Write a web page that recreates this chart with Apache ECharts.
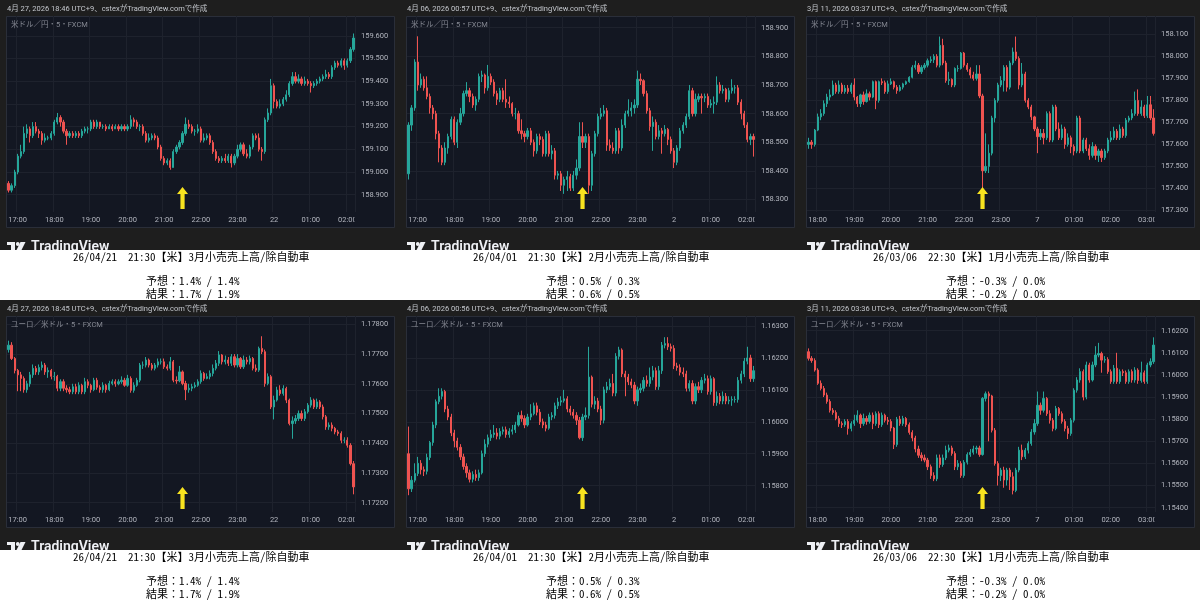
<!DOCTYPE html>
<html><head><meta charset="utf-8">
<script src="https://cdn.jsdelivr.net/npm/echarts@6/dist/echarts.min.js"></script>
<style>html,body{margin:0;padding:0;background:#fff}#c{width:1200px;height:600px}</style>
</head><body><div id="c"></div>
<script>
// ---------- DATA ----------
const p1Open0 = 158.95;
const p1Close = [158.92,158.94,159.00,159.07,159.09,159.17,159.19,159.16,159.20,159.18,
159.17,159.14,159.15,159.15,159.17,159.22,159.24,159.22,159.18,159.16,
159.17,159.16,159.17,159.16,159.18,159.19,159.19,159.22,159.20,159.22,
159.20,159.20,159.19,159.20,159.19,159.20,159.19,159.20,159.19,159.20,
159.23,159.22,159.20,159.20,159.17,159.14,159.15,159.16,159.15,159.11,
159.06,159.04,159.05,159.02,159.09,159.11,159.13,159.17,159.21,159.20,
159.18,159.18,159.19,159.14,159.15,159.16,159.13,159.09,159.06,159.05,
159.06,159.05,159.07,159.04,159.07,159.10,159.12,159.08,159.07,159.11,
159.16,159.15,159.10,159.09,159.23,159.26,159.38,159.31,159.29,159.30,
159.32,159.34,159.39,159.42,159.40,159.41,159.39,159.40,159.39,159.38,
159.39,159.40,159.41,159.42,159.43,159.42,159.46,159.48,159.47,159.49,
159.47,159.49,159.54,159.59];
const p1High = [158.96,158.95,159.01,159.08,159.12,159.20,159.21,159.20,159.22,159.22,
159.19,159.18,159.17,159.16,159.18,159.23,159.26,159.25,159.23,159.19,
159.18,159.18,159.18,159.18,159.19,159.20,159.20,159.23,159.23,159.23,
159.22,159.21,159.21,159.21,159.21,159.21,159.21,159.21,159.21,159.21,
159.25,159.24,159.23,159.21,159.21,159.18,159.17,159.17,159.17,159.16,
159.12,159.07,159.06,159.06,159.10,159.12,159.14,159.18,159.24,159.23,
159.21,159.19,159.21,159.20,159.17,159.17,159.17,159.14,159.10,159.07,
159.07,159.08,159.08,159.08,159.08,159.12,159.13,159.13,159.10,159.12,
159.17,159.17,159.17,159.11,159.24,159.28,159.41,159.39,159.32,159.32,
159.33,159.36,159.40,159.44,159.44,159.43,159.42,159.42,159.41,159.40,
159.40,159.41,159.42,159.43,159.45,159.44,159.47,159.49,159.49,159.50,
159.50,159.50,159.55,159.61];
const p1Low = [158.91,158.91,158.93,158.99,159.06,159.08,159.15,159.13,159.15,159.17,
159.15,159.12,159.13,159.14,159.14,159.16,159.21,159.20,159.17,159.12,
159.15,159.15,159.15,159.15,159.15,159.17,159.17,159.18,159.19,159.19,
159.19,159.19,159.18,159.19,159.18,159.19,159.18,159.18,159.18,159.18,
159.19,159.20,159.19,159.18,159.16,159.13,159.13,159.14,159.14,159.10,
159.05,159.03,159.03,159.01,159.02,159.08,159.10,159.12,159.16,159.19,
159.17,159.16,159.17,159.13,159.13,159.14,159.12,159.08,159.05,159.04,
159.04,159.04,159.04,159.02,159.03,159.06,159.09,159.07,159.06,159.06,
159.10,159.14,159.09,159.05,159.08,159.22,159.25,159.28,159.28,159.28,
159.29,159.31,159.33,159.38,159.39,159.39,159.38,159.38,159.38,159.35,
159.37,159.38,159.39,159.40,159.41,159.41,159.41,159.45,159.46,159.46,
159.45,159.46,159.48,159.53];

const p2Open0 = 158.39;
const p2Close = [158.56,158.62,158.78,158.70,158.72,158.69,158.66,158.62,158.60,158.53,
158.48,158.43,158.48,158.52,158.58,158.50,158.57,158.60,158.67,158.68,
158.66,158.63,158.65,158.73,158.735,158.69,158.73,158.71,158.67,158.65,
158.68,158.65,158.64,158.635,158.60,158.60,158.54,158.53,158.52,158.54,
158.50,158.47,158.52,158.51,158.46,158.53,158.46,158.47,158.385,158.39,
158.35,158.37,158.38,158.34,158.385,158.41,158.52,158.50,158.52,158.35,
158.46,158.53,158.59,158.60,158.61,158.49,158.48,158.47,158.54,158.48,
158.56,158.60,158.61,158.62,158.63,158.72,158.715,158.67,158.61,158.555,
158.57,158.52,158.54,158.53,158.545,158.51,158.47,158.43,158.48,158.54,
158.56,158.59,158.68,158.60,158.65,158.66,158.655,158.66,158.63,158.635,
158.64,158.70,158.68,158.685,158.65,158.68,158.69,158.69,158.64,158.60,
158.56,158.51,158.52,158.51];
const p2High = [158.57,158.63,158.79,158.87,158.74,158.73,158.73,158.67,158.63,158.61,
158.54,158.49,158.50,158.53,158.59,158.59,158.58,158.62,158.68,158.71,
158.69,158.67,158.66,158.74,158.75,158.74,158.77,158.74,158.72,158.68,
158.69,158.69,158.72,158.66,158.64,158.62,158.61,158.58,158.54,158.55,
158.55,158.51,158.53,158.53,158.52,158.54,158.54,158.49,158.48,158.40,
158.40,158.38,158.40,158.39,158.40,158.44,158.57,158.57,158.53,158.53,
158.47,158.54,158.60,158.62,158.63,158.62,158.51,158.50,158.55,158.55,
158.58,158.61,158.65,158.64,158.65,158.75,158.74,158.72,158.68,158.62,
158.59,158.58,158.56,158.55,158.56,158.55,158.52,158.48,158.49,158.55,
158.57,158.60,158.70,158.69,158.67,158.67,158.67,158.67,158.67,158.65,
158.66,158.73,158.71,158.70,158.69,158.69,158.72,158.70,158.70,158.65,
158.61,158.57,158.53,158.53];
const p2Low = [158.37,158.54,158.61,158.68,158.69,158.68,158.65,158.60,158.58,158.51,
158.43,158.42,158.42,158.46,158.51,158.49,158.48,158.56,158.59,158.66,
158.64,158.62,158.61,158.64,158.71,158.67,158.68,158.70,158.66,158.63,
158.64,158.64,158.62,158.62,158.59,158.58,158.53,158.51,158.50,158.51,
158.49,158.45,158.46,158.49,158.45,158.45,158.45,158.44,158.37,158.37,
158.33,158.32,158.33,158.33,158.33,158.37,158.40,158.48,158.48,158.32,
158.33,158.45,158.52,158.58,158.59,158.47,158.47,158.46,158.46,158.46,
158.47,158.55,158.59,158.59,158.60,158.62,158.70,158.66,158.60,158.54,
158.47,158.51,158.51,158.46,158.52,158.49,158.46,158.41,158.42,158.47,
158.53,158.55,158.58,158.59,158.59,158.64,158.60,158.64,158.62,158.62,
158.60,158.63,158.67,158.67,158.64,158.64,158.67,158.67,158.63,158.58,
158.55,158.50,158.49,158.45];

const p3Open0 = 157.60;
const p3Close = [157.61,157.60,157.665,157.725,157.74,157.785,157.815,157.825,157.87,157.84,
157.87,157.84,157.855,157.84,157.87,157.815,157.785,157.825,157.795,157.83,
157.815,157.885,157.80,157.885,157.88,157.84,157.875,157.885,157.86,157.845,
157.86,157.875,157.885,157.905,157.95,157.96,157.93,157.95,157.96,157.98,
157.985,158.00,157.96,158.05,157.97,157.89,157.895,157.87,157.945,157.945,
158.015,157.96,157.94,157.915,157.90,157.92,157.82,157.48,157.50,157.56,
157.72,157.80,157.87,157.89,157.95,157.86,157.97,158.02,157.99,157.87,
157.92,157.80,157.77,157.725,157.67,157.635,157.65,157.63,157.74,157.62,
157.77,157.67,157.63,157.67,157.60,157.63,157.59,157.57,157.72,157.57,
157.62,157.58,157.55,157.59,157.55,157.57,157.54,157.57,157.62,157.63,
157.66,157.63,157.67,157.64,157.71,157.72,157.74,157.80,157.74,157.77,
157.73,157.78,157.72,157.65];
const p3High = [157.63,157.62,157.67,157.74,157.76,157.80,157.83,157.85,157.89,157.88,
157.89,157.88,157.87,157.87,157.88,157.90,157.82,157.83,157.84,157.85,
157.84,157.89,157.89,157.89,157.90,157.89,157.89,157.90,157.89,157.87,
157.87,157.88,157.89,157.91,157.96,157.98,157.97,157.96,157.97,157.99,
158.00,158.01,158.01,158.09,158.08,157.98,157.93,157.90,157.95,157.96,
158.02,158.02,157.97,157.95,157.93,157.96,157.96,157.83,157.65,157.60,
157.73,157.81,157.88,157.91,157.96,157.96,157.98,158.04,158.09,158.00,
157.97,157.93,157.81,157.78,157.73,157.68,157.67,157.67,157.75,157.75,
157.78,157.78,157.70,157.69,157.68,157.65,157.64,157.60,157.73,157.73,
157.63,157.63,157.60,157.61,157.60,157.58,157.58,157.58,157.63,157.66,
157.68,157.67,157.69,157.68,157.72,157.73,157.76,157.84,157.85,157.80,
157.78,157.82,157.82,157.76];
const p3Low = [157.58,157.58,157.59,157.66,157.71,157.73,157.77,157.80,157.82,157.83,
157.83,157.83,157.83,157.83,157.83,157.80,157.77,157.77,157.78,157.79,
157.80,157.81,157.76,157.79,157.87,157.83,157.83,157.87,157.85,157.83,
157.84,157.85,157.87,157.88,157.90,157.94,157.92,157.92,157.94,157.95,
157.97,157.97,157.95,157.95,157.96,157.88,157.87,157.86,157.86,157.93,
157.94,157.95,157.93,157.90,157.89,157.89,157.81,157.375,157.47,157.47,
157.55,157.70,157.79,157.86,157.84,157.84,157.85,157.96,157.98,157.85,
157.86,157.79,157.76,157.71,157.66,157.56,157.62,157.60,157.62,157.61,
157.61,157.66,157.62,157.62,157.58,157.59,157.56,157.55,157.56,157.56,
157.56,157.57,157.53,157.54,157.53,157.52,157.52,157.53,157.56,157.61,
157.62,157.62,157.62,157.63,157.63,157.70,157.71,157.73,157.73,157.73,
157.72,157.72,157.71,157.64];

const p4Open0 = 1.17715;
const p4Close = [1.17730,1.17685,1.17645,1.17630,1.17618,1.17580,1.17600,1.17630,1.17652,1.17640,
1.17655,1.17663,1.17640,1.17645,1.17625,1.17625,1.17585,1.17607,1.17585,1.17580,
1.17573,1.17590,1.17573,1.17595,1.17573,1.17607,1.17595,1.17580,1.17612,1.17588,
1.17580,1.17595,1.17580,1.17601,1.17607,1.17600,1.17607,1.17612,1.17595,1.17618,
1.17578,1.17595,1.17612,1.17663,1.17663,1.17680,1.17663,1.17652,1.17663,1.17674,
1.17674,1.17657,1.17652,1.17674,1.17612,1.17610,1.17640,1.17601,1.17580,1.17585,
1.17590,1.17595,1.17607,1.17635,1.17618,1.17624,1.17635,1.17652,1.17669,1.17697,
1.17674,1.17680,1.17669,1.17691,1.17663,1.17685,1.17657,1.17680,1.17674,1.17685,
1.17652,1.17646,1.17719,1.17708,1.17601,1.17624,1.17522,1.17545,1.17579,1.17567,
1.17584,1.17545,1.17466,1.17475,1.17483,1.17500,1.17483,1.17506,1.17528,1.17545,
1.17522,1.17539,1.17522,1.17489,1.17455,1.17461,1.17450,1.17438,1.17433,1.17410,
1.17410,1.17393,1.17331,1.17253];
const p4High = [1.17745,1.17740,1.17690,1.17650,1.17640,1.17625,1.17610,1.17640,1.17665,1.17660,
1.17665,1.17675,1.17670,1.17655,1.17650,1.17640,1.17630,1.17615,1.17615,1.17595,
1.17590,1.17600,1.17600,1.17605,1.17600,1.17620,1.17615,1.17600,1.17620,1.17620,
1.17595,1.17605,1.17600,1.17610,1.17615,1.17615,1.17615,1.17625,1.17620,1.17630,
1.17625,1.17605,1.17620,1.17670,1.17675,1.17690,1.17685,1.17670,1.17670,1.17685,
1.17685,1.17685,1.17665,1.17690,1.17680,1.17625,1.17660,1.17645,1.17610,1.17600,
1.17600,1.17605,1.17615,1.17645,1.17640,1.17635,1.17645,1.17665,1.17680,1.17710,
1.17700,1.17695,1.17690,1.17700,1.17700,1.17700,1.17690,1.17695,1.17690,1.17695,
1.17690,1.17665,1.17725,1.17760,1.17715,1.17635,1.17630,1.17560,1.17590,1.17595,
1.17595,1.17590,1.17550,1.17490,1.17495,1.17510,1.17510,1.17515,1.17535,1.17555,
1.17550,1.17550,1.17545,1.17530,1.17495,1.17470,1.17470,1.17455,1.17445,1.17440,
1.17420,1.17420,1.17400,1.17340];
const p4Low = [1.17705,1.17680,1.17635,1.17575,1.17575,1.17570,1.17570,1.17590,1.17620,1.17630,
1.17630,1.17645,1.17630,1.17620,1.17615,1.17610,1.17575,1.17575,1.17575,1.17570,
1.17565,1.17565,1.17565,1.17565,1.17565,1.17565,1.17585,1.17570,1.17575,1.17580,
1.17570,1.17570,1.17570,1.17575,1.17595,1.17590,1.17595,1.17600,1.17590,1.17590,
1.17570,1.17570,1.17590,1.17605,1.17650,1.17655,1.17655,1.17645,1.17645,1.17655,
1.17665,1.17650,1.17645,1.17645,1.17605,1.17600,1.17605,1.17595,1.17545,1.17570,
1.17575,1.17585,1.17590,1.17600,1.17610,1.17615,1.17615,1.17625,1.17645,1.17660,
1.17665,1.17665,1.17660,1.17660,1.17655,1.17655,1.17650,1.17650,1.17665,1.17665,
1.17645,1.17640,1.17640,1.17700,1.17590,1.17595,1.17515,1.17480,1.17540,1.17560,
1.17560,1.17535,1.17460,1.17415,1.17465,1.17475,1.17475,1.17475,1.17500,1.17520,
1.17515,1.17515,1.17515,1.17480,1.17445,1.17445,1.17440,1.17430,1.17425,1.17400,
1.17400,1.17385,1.17325,1.17228];

const p5Open0 = 1.15900;
const p5Close = [1.15790,1.15817,1.15838,1.15870,1.15850,1.15845,1.15888,1.15935,1.15990,1.16063,
1.16080,1.16095,1.16040,1.16015,1.15965,1.15940,1.15920,1.15890,1.15860,1.15840,
1.15820,1.15835,1.15825,1.15840,1.15900,1.15930,1.15950,1.15960,1.15965,1.15955,
1.15970,1.15975,1.15960,1.15970,1.15975,1.15990,1.16020,1.16010,1.15990,1.16015,
1.16025,1.16050,1.16030,1.16000,1.15990,1.15980,1.16015,1.16020,1.16050,1.16062,
1.16066,1.16072,1.16040,1.16030,1.16020,1.16005,1.15950,1.16015,1.16020,1.16140,
1.16055,1.16065,1.16040,1.16005,1.16100,1.16110,1.16120,1.16090,1.16205,1.16225,
1.16150,1.16140,1.16125,1.16115,1.16065,1.16100,1.16105,1.16130,1.16120,1.16140,
1.16160,1.16110,1.16160,1.16240,1.16245,1.16235,1.16230,1.16175,1.16170,1.16155,
1.16150,1.16105,1.16120,1.16065,1.16110,1.16100,1.16130,1.16135,1.16095,1.16135,
1.16060,1.16080,1.16065,1.16080,1.16065,1.16068,1.16070,1.16070,1.16130,1.16150,
1.16190,1.16200,1.16135,1.16160];
const p5High = [1.15985,1.15830,1.15870,1.15890,1.15880,1.15860,1.15900,1.15940,1.16000,1.16070,
1.16105,1.16105,1.16100,1.16050,1.16025,1.15975,1.15950,1.15930,1.15900,1.15870,
1.15850,1.15845,1.15850,1.15850,1.15910,1.15945,1.15960,1.15975,1.15990,1.15980,
1.15980,1.15985,1.15985,1.15980,1.15990,1.16000,1.16030,1.16035,1.16020,1.16025,
1.16055,1.16060,1.16060,1.16040,1.16010,1.16000,1.16025,1.16030,1.16060,1.16075,
1.16080,1.16100,1.16080,1.16050,1.16040,1.16030,1.16015,1.16025,1.16045,1.16235,
1.16145,1.16080,1.16075,1.16050,1.16110,1.16125,1.16135,1.16150,1.16215,1.16235,
1.16230,1.16160,1.16150,1.16135,1.16125,1.16110,1.16120,1.16140,1.16145,1.16170,
1.16175,1.16170,1.16175,1.16250,1.16265,1.16265,1.16245,1.16240,1.16185,1.16180,
1.16170,1.16160,1.16130,1.16130,1.16120,1.16125,1.16140,1.16150,1.16145,1.16145,
1.16140,1.16095,1.16090,1.16095,1.16090,1.16080,1.16080,1.16080,1.16140,1.16160,
1.16200,1.16235,1.16210,1.16175];
const p5Low = [1.15770,1.15780,1.15810,1.15830,1.15835,1.15830,1.15835,1.15880,1.15925,1.15980,
1.16055,1.16070,1.16030,1.16005,1.15955,1.15920,1.15910,1.15880,1.15850,1.15825,
1.15810,1.15810,1.15815,1.15815,1.15835,1.15890,1.15920,1.15940,1.15950,1.15945,
1.15945,1.15960,1.15950,1.15950,1.15960,1.15965,1.15985,1.16000,1.15980,1.15985,
1.16005,1.16020,1.16020,1.15990,1.15980,1.15970,1.15975,1.16005,1.16010,1.16040,
1.16050,1.16060,1.16030,1.16020,1.16010,1.15990,1.15945,1.15940,1.16005,1.16010,
1.16045,1.16040,1.16030,1.15990,1.15995,1.16090,1.16100,1.16080,1.16080,1.16195,
1.16140,1.16080,1.16115,1.16105,1.16055,1.16050,1.16090,1.16095,1.16110,1.16110,
1.16130,1.16100,1.16100,1.16150,1.16230,1.16225,1.16220,1.16165,1.16160,1.16145,
1.16140,1.16095,1.16095,1.16055,1.16055,1.16090,1.16090,1.16120,1.16085,1.16085,
1.16050,1.16050,1.16055,1.16055,1.16055,1.16055,1.16050,1.16060,1.16060,1.16120,
1.16140,1.16180,1.16125,1.16125];

const p6Open0 = 1.16105;
const p6Close = [1.16075,1.16065,1.16022,1.15962,1.15939,1.15909,1.15880,1.15840,1.15830,1.15803,
1.15780,1.15775,1.15790,1.15758,1.15780,1.15795,1.15818,1.15780,1.15803,1.15790,
1.15818,1.15780,1.15825,1.15775,1.15818,1.15795,1.15790,1.15760,1.15685,1.15800,
1.15780,1.15803,1.15775,1.15740,1.15715,1.15665,1.15637,1.15625,1.15615,1.15585,
1.15545,1.15530,1.15625,1.15595,1.15625,1.15660,1.15670,1.15645,1.15585,1.15600,
1.15545,1.15605,1.15640,1.15650,1.15665,1.15670,1.15640,1.15894,1.15915,1.15905,
1.15750,1.15600,1.15545,1.15570,1.15525,1.15570,1.15540,1.15478,1.15570,1.15660,
1.15630,1.15660,1.15690,1.15742,1.15780,1.15863,1.15840,1.15894,1.15825,1.15795,
1.15758,1.15848,1.15825,1.15790,1.15758,1.15735,1.15795,1.15931,1.15977,1.16015,
1.15900,1.16045,1.15977,1.16045,1.16090,1.16097,1.16067,1.16070,1.16015,1.15970,
1.16030,1.15970,1.16015,1.16010,1.15970,1.16015,1.15977,1.16022,1.15975,1.16010,
1.15970,1.16045,1.16060,1.16135];
const p6High = [1.16120,1.16085,1.16075,1.16030,1.15975,1.15950,1.15920,1.15890,1.15850,1.15840,
1.15815,1.15790,1.15800,1.15800,1.15790,1.15820,1.15840,1.15825,1.15825,1.15815,
1.15830,1.15830,1.15835,1.15835,1.15830,1.15825,1.15810,1.15800,1.15765,1.15810,
1.15815,1.15815,1.15810,1.15785,1.15750,1.15725,1.15680,1.15650,1.15640,1.15625,
1.15595,1.15560,1.15640,1.15640,1.15640,1.15680,1.15685,1.15680,1.15655,1.15615,
1.15610,1.15615,1.15650,1.15665,1.15680,1.15680,1.15680,1.15900,1.15925,1.15925,
1.15910,1.15760,1.15610,1.15580,1.15585,1.15580,1.15580,1.15560,1.15580,1.15675,
1.15685,1.15670,1.15700,1.15755,1.15800,1.15925,1.15875,1.15925,1.15900,1.15840,
1.15805,1.15860,1.15855,1.15835,1.15800,1.15770,1.15805,1.15940,1.15990,1.16030,
1.16025,1.16060,1.16055,1.16060,1.16130,1.16145,1.16105,1.16085,1.16080,1.16025,
1.16045,1.16100,1.16025,1.16025,1.16020,1.16025,1.16025,1.16035,1.16030,1.16060,
1.16020,1.16055,1.16075,1.16170];
const p6Low = [1.16065,1.16055,1.16015,1.15955,1.15930,1.15900,1.15870,1.15830,1.15820,1.15795,
1.15765,1.15760,1.15765,1.15730,1.15745,1.15770,1.15785,1.15760,1.15770,1.15775,
1.15780,1.15755,1.15770,1.15760,1.15765,1.15785,1.15775,1.15745,1.15665,1.15675,
1.15770,1.15770,1.15765,1.15730,1.15700,1.15650,1.15625,1.15610,1.15605,1.15570,
1.15530,1.15520,1.15520,1.15580,1.15585,1.15615,1.15650,1.15635,1.15570,1.15570,
1.15535,1.15535,1.15595,1.15630,1.15640,1.15645,1.15630,1.15635,1.15880,1.15700,
1.15740,1.15590,1.15500,1.15520,1.15490,1.15500,1.15480,1.15460,1.15470,1.15560,
1.15615,1.15620,1.15645,1.15680,1.15730,1.15770,1.15820,1.15830,1.15815,1.15780,
1.15745,1.15750,1.15815,1.15780,1.15745,1.15710,1.15725,1.15785,1.15920,1.15965,
1.15885,1.15890,1.15965,1.15970,1.16035,1.16080,1.16010,1.16055,1.16005,1.15960,
1.15960,1.15960,1.15960,1.15995,1.15960,1.15960,1.15965,1.15965,1.15960,1.15965,
1.15960,1.15960,1.16035,1.16050];

// axis ranges (bottom, top of plot) and tick labels
const p1Range = [158.824, 159.687];
const p2Range = [158.2566, 158.9408];
const p3Range = [157.2927, 158.1835];
const p4Range = [1.171685, 1.178281];
const p5Range = [1.157174, 1.163314];
const p6Range = [1.153804, 1.162664];
const ticksApr21 = ['17:00','18:00','19:00','20:00','21:00','22:00','23:00','22','01:00','02:00'];
const ticksApr01 = ['17:00','18:00','19:00','20:00','21:00','22:00','23:00','2','01:00','02:00'];
const ticksMar06 = ['18:00','19:00','20:00','21:00','22:00','23:00','7','01:00','02:00','03:00'];
const startTimes = ['16:45','16:45','17:45'];
const eventTimes = ['21:30','21:30','22:30'];

const titles = [
 '4月 27, 2026 18:46 UTC+9、cstexがTradingView.comで作成',
 '4月 06, 2026 00:57 UTC+9、cstexがTradingView.comで作成',
 '3月 11, 2026 03:37 UTC+9、cstexがTradingView.comで作成',
 '4月 27, 2026 18:45 UTC+9、cstexがTradingView.comで作成',
 '4月 06, 2026 00:56 UTC+9、cstexがTradingView.comで作成',
 '3月 11, 2026 03:36 UTC+9、cstexがTradingView.comで作成'];
const symbols = ['米ドル／円・5・FXCM','ユーロ／米ドル・5・FXCM'];
const eventLines = ['26/04/21  21:30【米】3月小売売上高/除自動車','26/04/01  21:30【米】2月小売売上高/除自動車','26/03/06  22:30【米】1月小売売上高/除自動車'];
const forecastLines = ['予想：1.4% / 1.4%','予想：0.5% / 0.3%','予想：-0.3% / 0.0%'];
const resultLines = ['結果：1.7% / 1.9%','結果：0.6% / 0.5%','結果：-0.2% / 0.0%'];

// ---------- BUILD ----------
const panels = [
 {col:0,row:0,open0:p1Open0,close:p1Close,high:p1High,low:p1Low,range:p1Range,step:0.1,dec:3,ticks:ticksApr21,sym:symbols[0]},
 {col:1,row:0,open0:p2Open0,close:p2Close,high:p2High,low:p2Low,range:p2Range,step:0.1,dec:3,ticks:ticksApr01,sym:symbols[0]},
 {col:2,row:0,open0:p3Open0,close:p3Close,high:p3High,low:p3Low,range:p3Range,step:0.1,dec:3,ticks:ticksMar06,sym:symbols[0]},
 {col:0,row:1,open0:p4Open0,close:p4Close,high:p4High,low:p4Low,range:p4Range,step:0.001,dec:5,ticks:ticksApr21,sym:symbols[1]},
 {col:1,row:1,open0:p5Open0,close:p5Close,high:p5High,low:p5Low,range:p5Range,step:0.001,dec:5,ticks:ticksApr01,sym:symbols[1]},
 {col:2,row:1,open0:p6Open0,close:p6Close,high:p6High,low:p6Low,range:p6Range,step:0.001,dec:5,ticks:ticksMar06,sym:symbols[1]}
];

function buildTimes(start, n){
  let [h,m] = start.split(':').map(Number); const out = [];
  for (let i=0;i<n;i++){ out.push(String(h).padStart(2,'0')+':'+String(m).padStart(2,'0')); m+=5; if(m>=60){m-=60;h=(h+1)%24;} }
  return out;
}

const UP='#26a69a', DOWN='#ef5350', LBL='#b2b5be', GRIDC='#1e222d';
const FONT = 'Roboto, "Noto Sans CJK JP", sans-serif';
const grids=[], xAxes=[], yAxes=[], series=[], graphics=[];

panels.forEach((p,k)=>{
  const ox = p.col*400, oy = p.row*300;
  const cats = buildTimes(startTimes[p.col], p.close.length);
  const labelMap = {}; let t=0;
  cats.forEach(c=>{ if(c.endsWith(':00')) labelMap[c]=p.ticks[t++]; });
  const data = p.close.map((c,i)=>[i===0?p.open0:p.close[i-1], c, p.low[i], p.high[i]]);
  const [mn,mx] = p.range;
  grids.push({left:ox+7, top:oy+16, width:348, height:196, show:false});
  xAxes.push({type:'category', gridIndex:k, data:cats, boundaryGap:true,
    axisLine:{show:false}, axisTick:{show:false},
    axisLabel:{interval:(i,v)=>v.endsWith(':00'), formatter:v=>labelMap[v]||'', color:LBL, fontSize:7.5, fontFamily:FONT, margin:4},
    splitLine:{show:true, interval:(i,v)=>v.endsWith(':00'), lineStyle:{color:GRIDC, width:1}}});
  yAxes.push({type:'value', gridIndex:k, position:'right', min:mn, max:mx, scale:true,
    minInterval:p.step, maxInterval:p.step,
    axisLine:{show:false}, axisTick:{show:false},
    splitLine:{show:true, showMinLine:false, showMaxLine:false, lineStyle:{color:GRIDC, width:1}},
    axisLabel:{color:LBL, fontSize:7.5, fontFamily:FONT, margin:6,
      formatter:v=>{ const r=v/p.step; return Math.abs(r-Math.round(r))<1e-6 ? v.toFixed(p.dec) : ''; }}});
  series.push({type:'candlestick', xAxisIndex:k, yAxisIndex:k, data, barWidth:1.7,
    itemStyle:{color:UP, color0:DOWN, borderColor:UP, borderColor0:DOWN, borderColorDoji:UP, borderWidth:1},
    markPoint:{silent:true, animation:false,
      symbol:'path://M5.5,0L11,7L7.6,7L7.6,22L3.4,22L3.4,7L0,7Z', symbolSize:[11,22],
      itemStyle:{color:'#f8e31f'}, label:{show:false},
      data:[{coord:[eventTimes[p.col], mn + 0.071*(mx-mn)]}]}});
  // chart box
  graphics.push({type:'rect', z:-10, shape:{x:ox+6.5, y:oy+16.5, width:388, height:211}, style:{fill:'#131722', stroke:'#2a2e39', lineWidth:1}});
  // cover for clipped time label under price scale
  graphics.push({type:'rect', z:50, shape:{x:ox+354.5, y:oy+213, width:39, height:14}, style:{fill:'#131722'}});
  graphics.push({type:'text', z:60, style:{text:titles[k], x:ox+7, y:oy+9, fill:'#c5c8ce', font:'7.5px '+FONT, textVerticalAlign:'middle'}});
  graphics.push({type:'text', z:60, style:{text:p.sym, x:ox+11, y:oy+25.5, fill:'#868993', font:'7.5px '+FONT, textVerticalAlign:'middle'}});
  // TradingView logo (cut by the white strip)
  graphics.push({type:'rect', z:60, shape:{x:ox+7, y:oy+242, width:8, height:3}, style:{fill:'#eef0f4'}});
  graphics.push({type:'rect', z:60, shape:{x:ox+11, y:oy+242, width:4, height:10}, style:{fill:'#eef0f4'}});
  graphics.push({type:'circle', z:60, shape:{cx:ox+17.8, cy:oy+244, r:1.9}, style:{fill:'#eef0f4'}});
  graphics.push({type:'polygon', z:60, shape:{points:[[ox+20.5,oy+242],[ox+25.5,oy+242],[ox+20.5,oy+252],[ox+15.5,oy+252]]}, style:{fill:'#eef0f4'}});
  graphics.push({type:'text', z:60, style:{text:'TradingView', x:ox+31, y:oy+254, fill:'#eef0f4', font:'600 14px '+FONT, textVerticalAlign:'bottom'}});
});

// white caption strips + captions
[0,1].forEach(r=>{
  const oy=r*300;
  graphics.push({type:'rect', z:100, shape:{x:0, y:oy+250, width:1200, height:50}, style:{fill:'#ffffff'}});
  [0,1,2].forEach(c=>{
    const ox=c*400; const f='11px "Noto Sans Mono CJK JP", "Noto Sans CJK JP", "DejaVu Sans Mono", monospace';
    graphics.push({type:'text', z:101, style:{text:eventLines[c], x:ox+73, y:oy+257, fill:'#000', font:f, textVerticalAlign:'middle'}});
    graphics.push({type:'text', z:101, style:{text:forecastLines[c], x:ox+146, y:oy+281, fill:'#000', font:f, textVerticalAlign:'middle'}});
    graphics.push({type:'text', z:101, style:{text:resultLines[c], x:ox+146, y:oy+293.5, fill:'#000', font:f, textVerticalAlign:'middle'}});
  });
});

const chart = echarts.init(document.getElementById('c'), null, {renderer:'canvas'});
chart.setOption({
  backgroundColor:'#1e1e1e', animation:false,
  grid:grids, xAxis:xAxes, yAxis:yAxes, series:series, graphic:graphics
});
</script></body></html>
